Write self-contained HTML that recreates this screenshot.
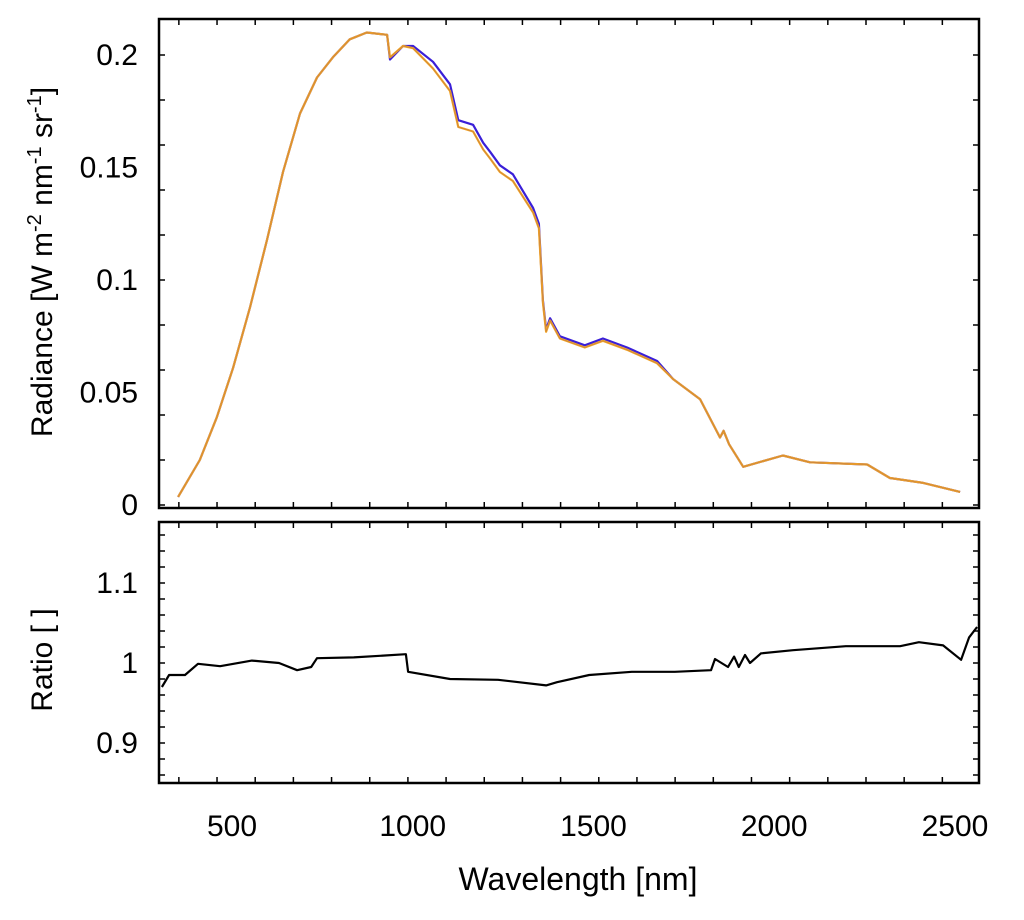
<!DOCTYPE html>
<html><head><meta charset="utf-8">
<style>
body{margin:0;background:#fff;}
svg{display:block;font-family:"Liberation Sans",Arial,sans-serif;}
</style></head>
<body>
<svg id="chart" width="1024" height="920" viewBox="0 0 1024 920"></svg>
<script>
// ---- data ----
const radNm = [351,411,458,503,550,597,641,688,735,779,826,873,929,937,973,1001,1056,1103,1126,1167,1195,1214,1241,1277,1333,1349,1360,1369,1380,1407,1476,1526,1593,1676,1720,1795,1850,1860,1875,1914,2024,2099,2257,2320,2412,2514];
const radBlue = [0.0036,0.020,0.039,0.061,0.088,0.118,0.148,0.174,0.190,0.199,0.207,0.210,0.209,0.198,0.204,0.204,0.197,0.187,0.171,0.169,0.161,0.157,0.151,0.147,0.132,0.125,0.091,0.078,0.083,0.075,0.071,0.074,0.070,0.064,0.056,0.047,0.030,0.033,0.027,0.017,0.022,0.019,0.018,0.012,0.0098,0.0058];
const radOrange = [0.0036,0.020,0.039,0.061,0.088,0.118,0.148,0.174,0.190,0.199,0.207,0.210,0.209,0.199,0.204,0.203,0.194,0.184,0.168,0.166,0.158,0.154,0.148,0.144,0.130,0.123,0.090,0.077,0.082,0.074,0.070,0.073,0.069,0.063,0.056,0.047,0.030,0.033,0.027,0.017,0.022,0.019,0.018,0.012,0.0098,0.0058];
const ratioNm = [306,326,370,406,467,555,630,680,719,735,837,981,987,1103,1236,1369,1399,1488,1606,1725,1825,1836,1872,1889,1902,1919,1933,1963,2052,2198,2348,2400,2467,2517,2539,2561];
const ratioVal = [0.97,0.985,0.985,0.999,0.996,1.003,1.0,0.991,0.995,1.006,1.007,1.011,0.989,0.98,0.979,0.972,0.976,0.985,0.989,0.989,0.991,1.005,0.995,1.008,0.995,1.01,1.0,1.012,1.016,1.021,1.021,1.026,1.022,1.004,1.032,1.045];
const xTickLabels = [500,1000,1500,2000,2500];
const radTickLabels = [0,0.05,0.1,0.15,0.2];
const ratioTickLabels = [0.9,1,1.1];

// ---- scales ----
const L=159,R=979;
const X = nm => 232 + (nm-500)*0.3615;
const Y1 = v => 505 - v*2250;
const Y2 = v => 663 - (v-1)*800;
const T1=19,B1=508,T2=522,B2=783;
const NS='http://www.w3.org/2000/svg';
const svg=document.getElementById('chart');
function el(tag,attrs,parent){const e=document.createElementNS(NS,tag);for(const k in attrs)e.setAttribute(k,attrs[k]);(parent||svg).appendChild(e);return e;}

// frames
const f1=el('rect',{x:L,y:T1,width:R-L,height:B1-T1,fill:'none',stroke:'#000','stroke-width':2.5});


const f2=el('rect',{x:L,y:T2,width:R-L,height:B2-T2,fill:'none',stroke:'#000','stroke-width':2.5});



// ticks
const tg=el('g',{stroke:'#000','stroke-width':1.5});


for(let nm=353;X(nm)<R-2;nm+=105.6){
  const x=X(nm);
  [[B1,-6],[T1,6],[B2,-6],[T2,6]].forEach(([y,d])=>el('line',{x1:x,x2:x,y1:y,y2:y+d},tg));
}
for(let v=0;Y1(v)>T1+2;v+=0.02){const y=Y1(v);el('line',{x1:L,x2:L+6,y1:y,y2:y},tg);el('line',{x1:R,x2:R-6,y1:y,y2:y},tg);}
for(let v=0.86;Y2(v)>T2+2;v+=0.02){const y=Y2(v);if(y>B2-2)continue;el('line',{x1:L,x2:L+6,y1:y,y2:y},tg);el('line',{x1:R,x2:R-6,y1:y,y2:y},tg);}

// tick labels
xTickLabels.forEach(v=>{const t=el('text',{x:X(v),y:836,'font-size':30,'text-anchor':'middle'});t.textContent=v;

});
radTickLabels.forEach(v=>{const t=el('text',{x:138,y:Y1(v)+10,'font-size':30,'text-anchor':'end'});t.textContent=v;

});
ratioTickLabels.forEach(v=>{const t=el('text',{x:138,y:Y2(v)+10,'font-size':30,'text-anchor':'end'});t.textContent=v;

});

// axis titles
const yt=el('text',{x:0,y:0,'font-size':30,'text-anchor':'middle',transform:'translate(52,262) rotate(-90)'});
yt.innerHTML='Radiance [W m<tspan dy="-11" font-size="20">-2</tspan><tspan dy="11"> nm</tspan><tspan dy="-11" font-size="20">-1</tspan><tspan dy="11"> sr</tspan><tspan dy="-11" font-size="20">-1</tspan><tspan dy="11">]</tspan>';


const rt=el('text',{x:0,y:0,'font-size':30,'text-anchor':'middle',transform:'translate(52,660) rotate(-90)'});
rt.textContent='Ratio [ ]';


const xt=el('text',{x:578,y:890,'font-size':32,'text-anchor':'middle'});
xt.textContent='Wavelength [nm]';



// series
function path(xs,ys,fx,fy){return xs.map((x,i)=>(i?'L':'M')+fx(x).toFixed(1)+','+fy(ys[i]).toFixed(1)).join('');}
const pb=el('path',{d:path(radNm,radBlue,X,Y1),fill:'none',stroke:'#3a1fd8','stroke-width':2.2,'stroke-linejoin':'round'});


const po=el('path',{d:path(radNm,radOrange,X,Y1),fill:'none',stroke:'#f5a623','stroke-width':2.2,'stroke-linejoin':'round'});


const pm=el('path',{d:path(radNm,radOrange,X,Y1),fill:'none',stroke:'#b07050','stroke-width':0.8,opacity:0.6});


const pr=el('path',{d:path(ratioNm,ratioVal,X,Y2),fill:'none',stroke:'#000','stroke-width':2.2,'stroke-linejoin':'round'});


</script>
</body></html>
